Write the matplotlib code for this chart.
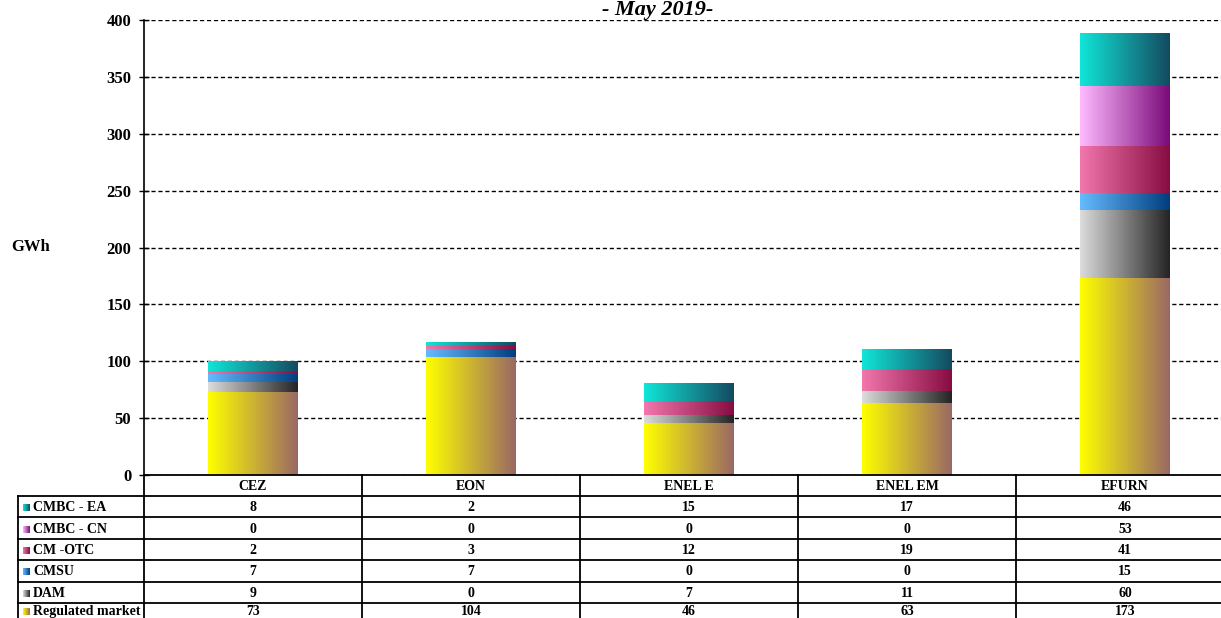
import numpy as np
import matplotlib
matplotlib.use("Agg")
from matplotlib import pyplot as plt
from matplotlib.colors import LinearSegmentedColormap
from matplotlib.lines import Line2D

plt.rcParams["font.family"] = ["Liberation Serif", "DejaVu Serif"]
plt.rcParams["font.weight"] = "bold"

companies = ["CEZ", "EON", "ENEL E", "ENEL EM", "EFURN"]
series_names = ["CMBC - EA", "CMBC - CN", "CM -OTC", "CMSU", "DAM", "Regulated market"]
cmbc_ea = [8, 2, 15, 17, 46]
cmbc_cn = [0, 0, 0, 0, 53]
cm_otc = [2, 3, 12, 19, 41]
cmsu = [7, 7, 0, 0, 15]
dam = [9, 0, 7, 11, 60]
regulated = [73, 104, 46, 63, 173]
series_values = [cmbc_ea, cmbc_cn, cm_otc, cmsu, dam, regulated]
y_ticks = [0, 50, 100, 150, 200, 250, 300, 350, 400]

# left -> right gradient colours for each series (same order as series_names)
gradients = [
    ("#10E6D8", "#144A60"),
    ("#FFBAFF", "#7A0A7A"),
    ("#F277AC", "#860C42"),
    ("#66BBFF", "#003E7E"),
    ("#DCDCDC", "#242424"),
    ("#FFFF00", "#9A6864"),
]

W, H = 1221, 618
fig = plt.figure(figsize=(W / 100, H / 100), dpi=100)

# plot area in pixel terms
px_left, px_right, px_top, px_bottom = 144, 1234, 20, 475
ax = fig.add_axes([px_left / W, 1 - px_bottom / H, (px_right - px_left) / W, (px_bottom - px_top) / H])
ax.set_xlim(-0.5, len(companies) - 0.5)
ax.set_ylim(0, 400)
ax.set_yticks(y_ticks)
ax.set_yticklabels([str(t) for t in y_ticks], fontsize=12, fontweight="bold")
ax.tick_params(axis="y", direction="inout", length=7.5, width=1, pad=5.5)
ax.set_xticks([])
for s in ["top", "right", "bottom"]:
    ax.spines[s].set_visible(False)
ax.spines["left"].set_linewidth(1.2)
ax.yaxis.grid(True, color="black", linestyle=(0, (3, 2)), linewidth=1)
ax.set_axisbelow(True)

x = np.arange(len(companies))
bottom = np.zeros(len(companies))
grad = np.linspace(0, 1, 256).reshape(1, -1)
# stack from bottom: Regulated market first
for name, vals, (c0, c1) in reversed(list(zip(series_names, series_values, gradients))):
    vals = np.array(vals, dtype=float)
    bars = ax.bar(x, vals, 0.41, bottom=bottom, color="none", zorder=2)
    cmap = LinearSegmentedColormap.from_list(name, [c0, c1])
    for b in bars:
        if b.get_height() <= 0:
            continue
        bx, by = b.get_x(), b.get_y()
        ax.imshow(grad, cmap=cmap, aspect="auto", zorder=2,
                  extent=[bx, bx + b.get_width(), by, by + b.get_height()])
    bottom += vals
ax.set_xlim(-0.5, len(companies) - 0.5)
ax.set_ylim(0, 400)

# overlay in pixel coordinates for title, unit label and data table
ov = fig.add_axes([0, 0, 1, 1], zorder=5)
ov.set_xlim(0, W)
ov.set_ylim(H, 0)
ov.axis("off")
ov.patch.set_alpha(0)

ov.text(658, 15, "- May 2019-", ha="center", va="baseline", fontsize=16,
        fontweight="bold", style="italic")
ov.text(31, 247, "GWh", ha="center", va="center", fontsize=12, fontweight="bold")

col_w = (px_right - px_left) / len(companies)
label_left = 18
head_bottom = 496
row_h = 21.4
n_rows = len(series_names)
lw = 1.3

def hline(x0, x1, y):
    ov.add_line(Line2D([x0, x1], [y, y], color="black", linewidth=lw))

def vline(x0, y0, y1):
    ov.add_line(Line2D([x0, x0], [y0, y1], color="black", linewidth=lw))

hline(px_left, px_right, px_bottom)
for i in range(n_rows + 1):
    hline(label_left, px_right, head_bottom + i * row_h)
vline(label_left, head_bottom, H + 10)
for j in range(len(companies) + 1):
    vline(px_left + j * col_w, px_bottom, H + 10)

for j, comp in enumerate(companies):
    ov.text(px_left + (j + 0.5) * col_w, (px_bottom + head_bottom) / 2 + 1, comp,
            ha="center", va="center", fontsize=10, fontweight="bold")

for i, (name, vals, (c0, c1)) in enumerate(zip(series_names, series_values, gradients)):
    yc = head_bottom + (i + 0.5) * row_h
    ty = yc + 1 if i < n_rows - 1 else yc - 2
    cmap = LinearSegmentedColormap.from_list(name + "_key", [c0, c1])
    ov.imshow(grad, cmap=cmap, aspect="auto", zorder=6,
              extent=[23, 30, ty + 3.5, ty - 3.5])
    ov.text(33, ty, name, ha="left", va="center", fontsize=10, fontweight="bold")
    for j, v in enumerate(vals):
        ov.text(px_left + (j + 0.5) * col_w, ty, str(v), ha="center", va="center",
                fontsize=10, fontweight="bold")
ov.set_xlim(0, W)
ov.set_ylim(H, 0)

fig.savefig("out.png", dpi=100)
